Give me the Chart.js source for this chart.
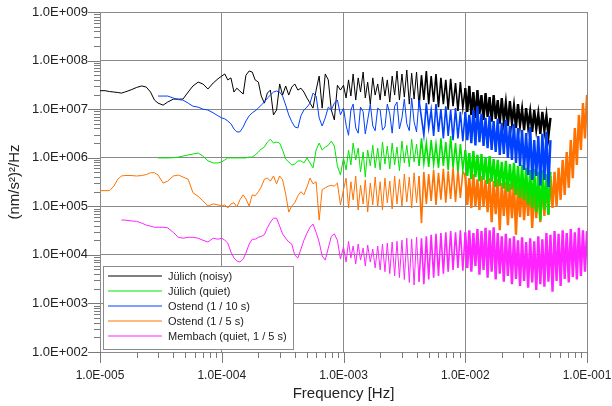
<!DOCTYPE html>
<html>
<head>
<meta charset="utf-8">
<script src="https://cdn.jsdelivr.net/npm/chart.js@4.4.0/dist/chart.umd.min.js"></script>
<style>
  html, body { margin: 0; padding: 0; background: #fff; }
</style>
</head>
<body>
<canvas id="psdChart" width="612" height="406"></canvas>
<script>
// frequency grid [Hz], shared by all spectra
var freq = [
  1.0e-5, 1.1e-5, 1.2e-5, 1.3e-5, 1.4e-5, 1.5e-5, 1.6e-5, 1.8e-5, 2.0e-5, 2.2e-5, 2.4e-5, 2.6e-5, 2.8e-5,
  3.0e-5, 3.3e-5, 3.6e-5, 4.0e-5, 4.4e-5, 4.8e-5, 5.3e-5, 5.8e-5, 6.4e-5, 7.0e-5, 7.7e-5, 8.5e-5, 9.3e-5,
  1.00e-4, 1.06e-4, 1.12e-4, 1.19e-4, 1.26e-4, 1.33e-4, 1.41e-4, 1.50e-4, 1.58e-4, 1.68e-4,
  1.78e-4, 1.88e-4, 2.00e-4, 2.11e-4, 2.24e-4, 2.37e-4, 2.51e-4, 2.66e-4, 2.82e-4, 2.99e-4,
  3.16e-4, 3.35e-4, 3.55e-4, 3.76e-4, 3.98e-4, 4.22e-4, 4.47e-4, 4.73e-4, 5.01e-4, 5.31e-4,
  5.62e-4, 5.96e-4, 6.31e-4, 6.68e-4, 7.08e-4, 7.50e-4, 7.94e-4, 8.41e-4, 8.91e-4, 9.44e-4,
  1.00e-3, 1.05e-3, 1.10e-3, 1.15e-3, 1.20e-3, 1.26e-3, 1.32e-3, 1.38e-3, 1.45e-3, 1.51e-3,
  1.58e-3, 1.66e-3, 1.74e-3, 1.82e-3, 1.91e-3, 2.00e-3, 2.09e-3, 2.19e-3, 2.29e-3, 2.40e-3,
  2.51e-3, 2.63e-3, 2.75e-3, 2.88e-3, 3.02e-3, 3.16e-3, 3.31e-3, 3.47e-3, 3.63e-3, 3.80e-3,
  3.98e-3, 4.17e-3, 4.37e-3, 4.57e-3, 4.79e-3, 5.01e-3, 5.25e-3, 5.50e-3, 5.75e-3, 6.03e-3,
  6.31e-3, 6.61e-3, 6.92e-3, 7.24e-3, 7.59e-3, 7.94e-3, 8.32e-3, 8.71e-3, 9.12e-3, 9.55e-3,
  1.000e-2, 1.039e-2, 1.080e-2, 1.122e-2, 1.166e-2, 1.212e-2, 1.259e-2, 1.308e-2, 1.359e-2, 1.413e-2,
  1.468e-2, 1.526e-2, 1.585e-2, 1.647e-2, 1.711e-2, 1.778e-2, 1.848e-2, 1.920e-2, 1.995e-2, 2.073e-2,
  2.154e-2, 2.239e-2, 2.326e-2, 2.418e-2, 2.512e-2, 2.610e-2, 2.712e-2, 2.818e-2, 2.929e-2, 3.043e-2,
  3.162e-2, 3.286e-2, 3.415e-2, 3.548e-2, 3.687e-2, 3.831e-2, 3.981e-2, 4.137e-2, 4.299e-2, 4.467e-2,
  4.642e-2, 4.823e-2, 5.012e-2, 5.208e-2, 5.412e-2, 5.623e-2, 5.843e-2, 6.072e-2, 6.310e-2, 6.557e-2,
  6.813e-2, 7.080e-2, 7.356e-2, 7.645e-2, 7.943e-2, 8.254e-2, 8.577e-2, 8.913e-2, 9.261e-2, 9.624e-2,
  1.0e-1
];

// PSD values [(nm/s^2)^2/Hz], null where the record has no data
var julichNoisy = [
  2.4e7, 2.4e7, 2.3e7, 2.25e7, 2.2e7, 2.14e7, 2.25e7, 2.5e7, 2.8e7, 3.0e7, 2.85e7, 2.25e7, 1.54e7,
  1.33e7, 1.21e7, 1.4e7, 1.61e7, 1.61e7, 1.61e7, 2.25e7, 3.0e7, 3.6e7, 3.3e7, 2.6e7, 3.45e7, 4.2e7,
  4.8e7, 5.3e7, 4.0e7, 4.4e7, 2.25e7, 2.7e7, 2.35e7, 2.05e7, 5.0e7, 6.1e7,
  5.8e7, 4.0e7, 3.6e7, 1.86e7, 1.33e7, 2.14e7, 2.47e7, 7.6e6, 9.6e6, 3.3e7,
  1.95e7, 3.0e7, 1.95e7, 2.85e7, 3.3e7, 2.47e7, 2.7e7, 2.25e7, 1.69e7, 1.33e7,
  1.05e7, 2.47e7, 4.8e7, 1.05e7, 5.3e7, 4.0e7, 9.6e6, 6.0e6, 3.1e7, 2.47e7,
  3.1e7, 1.7e7, 4.0e7, 1.86e7, 5.3e7, 1.54e7, 4.4e7, 2.25e7, 5.8e7, 1.7e7,
  3.6e7, 1.27e7, 4.4e7, 1.95e7, 3.3e7, 1.54e7, 4.6e7, 1.86e7, 4.0e7, 1.4e7,
  4.8e7, 1.95e7, 6.1e7, 1.54e7, 5.3e7, 1.77e7, 6.4e7, 1.27e7, 5.5e7, 1.61e7,
  5.8e7, 1.15e7, 5.0e7, 1.54e7, 6.1e7, 1.27e7, 4.8e7, 1.4e7, 5.3e7, 1.1e7,
  4.4e7, 1.27e7, 4.0e7, 9.9e6, 4.2e7, 1.15e7, 3.45e7, 9.2e6, 3.6e7, 1.05e7,
  2.7e7, 8.8e6, 3.0e7, 7.6e6, 2.25e7, 6.6e6, 2.47e7, 8.0e6, 1.95e7, 6.0e6,
  2.14e7, 6.9e6, 1.77e7, 5.5e6, 1.95e7, 6.3e6, 1.54e7, 5.0e6, 1.69e7, 5.7e6,
  1.33e7, 4.5e6, 1.47e7, 5.2e6, 1.15e7, 4.1e6, 1.27e7, 4.7e6, 1.0e7, 3.7e6,
  1.05e7, 4.3e6, 8.8e6, 3.4e6, 9.6e6, 3.9e6, 8.0e6, 3.1e6, 8.8e6, 3.6e6,
  7.3e6, 2.8e6, 6.6e6
];

var julichQuiet = [
  null, null, null, null, null, null, null, null, null, null, null, null, null,
  9.9e5, 9.9e5, 9.9e5, 1.0e6, 1.03e6, 1.08e6, 1.14e6, 1.19e6, 1.25e6, 1.08e6, 8.6e5, 7.8e5, 7.8e5,
  8.2e5, 9.0e5, 9.9e5, 9.9e5, 9.9e5, 9.9e5, 9.9e5, 9.9e5, 9.9e5, 1.03e6,
  1.03e6, 1.14e6, 1.31e6, 1.51e6, 1.66e6, 2.1e6, 2.4e6, 2.0e6, 2.1e6, 2.0e6,
  1.44e6, 9.4e5, 8.2e5, 7.1e5, 7.4e5, 8.6e5, 8.6e5, 7.8e5, 9.9e5, 7.8e5,
  6.2e5, 1.44e6, 2.0e6, 1.44e6, 1.66e6, 1.8e6, 2.2e6, 1.74e6, 6.8e5, 4.4e5,
  9.9e5, 5.6e5, 1.44e6, 7.1e5, 2.0e6, 9.0e5, 1.58e6, 5.1e5, 1.31e6, 4.0e5,
  1.44e6, 6.8e5, 1.8e6, 6.2e5, 1.58e6, 5.6e5, 2.1e6, 7.4e5, 1.74e6, 5.9e5,
  2.0e6, 7.1e5, 1.66e6, 5.4e5, 2.2e6, 7.8e5, 1.8e6, 6.5e5, 2.4e6, 8.2e5,
  1.9e6, 6.8e5, 2.5e6, 7.8e5, 2.0e6, 6.5e5, 2.3e6, 7.4e5, 1.9e6, 6.2e5,
  2.5e6, 6.8e5, 2.1e6, 5.6e5, 2.8e6, 6.2e5, 2.0e6, 5.1e5, 1.9e6, 5.6e5,
  1.44e6, 4.2e5, 1.25e6, 3.6e5, 1.37e6, 4.0e5, 1.14e6, 3.3e5, 1.19e6, 3.5e5,
  1.03e6, 2.9e5, 1.08e6, 3.2e5, 9.4e5, 2.5e5, 9.0e5, 2.6e5, 8.2e5, 2.3e5,
  8.6e5, 2.0e5, 7.4e5, 2.2e5, 7.8e5, 1.72e5, 6.8e5, 1.49e5, 7.1e5, 1.36e5,
  6.2e5, 1.07e5, 5.6e5, 9.2e4, 5.9e5, 7.6e4, 5.1e5, 5.2e4, 5.6e5, 8.4e4,
  4.6e5, 6.6e4, 5.1e5
];

var ostend10 = [
  null, null, null, null, null, null, null, null, null, null, null, null, null,
  1.86e7, 1.86e7, 1.86e7, 1.69e7, 1.57e7, 1.54e7, 1.33e7, 1.15e7, 1.1e7, 1.0e7, 9.6e6, 8.4e6, 7.3e6,
  6.6e6, 6.3e6, 5.7e6, 5.0e6, 3.9e6, 3.4e6, 3.4e6, 4.3e6, 5.7e6, 7.3e6,
  8.4e6, 9.2e6, 1.05e7, 1.21e7, 1.4e7, 1.69e7, 1.95e7, 2.25e7, 2.36e7, 2.25e7,
  1.86e7, 1.21e7, 7.6e6, 5.5e6, 4.3e6, 4.1e6, 7.3e6, 9.6e6, 1.1e7, 1.33e7,
  2.14e7, 1.86e7, 6.6e6, 4.5e6, 6.6e6, 1.1e7, 9.6e6, 1.33e7, 1.54e7, 7.6e6,
  1.05e7, 4.7e6, 2.9e6, 9.6e6, 1.27e7, 4.1e6, 3.2e6, 1.1e7, 8.8e6, 3.1e6,
  6.0e6, 1.27e7, 4.5e6, 3.6e6, 1.05e7, 9.6e6, 3.7e6, 4.3e6, 1.27e7, 8.0e6,
  3.2e6, 1.15e7, 1.4e7, 3.9e6, 6.6e6, 1.61e7, 5.0e6, 3.6e6, 1.69e7, 5.5e6,
  3.4e6, 1.54e7, 6.6e6, 2.9e6, 1.33e7, 4.1e6, 9.6e6, 2.8e6, 1.27e7, 3.4e6,
  1.0e7, 2.5e6, 1.15e7, 2.8e6, 9.6e6, 2.3e6, 1.05e7, 2.5e6, 8.8e6, 2.2e6,
  8.8e6, 2.3e6, 7.6e6, 2.0e6, 9.6e6, 1.8e6, 1.15e7, 2.1e6, 8.0e6, 1.74e6,
  6.6e6, 1.58e6, 7.3e6, 1.44e6, 5.7e6, 1.31e6, 6.3e6, 1.14e6, 5.2e6, 1.19e6,
  6.0e6, 9.9e5, 4.5e6, 9.0e5, 5.0e6, 7.8e5, 4.1e6, 6.8e5, 3.7e6, 5.6e5,
  3.2e6, 4.4e5, 4.3e6, 3.5e5, 2.3e6, 4.2e5, 2.8e6, 2.7e5, 3.1e6, 3.5e5,
  3.4e6, 2.5e5, 2.3e6
];

var ostend5 = [
  2.1e5, 2.1e5, 2.1e5, 2.6e5, 3.6e5, 4.2e5, 4.3e5, 4.3e5, 4.2e5, 4.3e5, 4.5e5, 4.9e5, 4.9e5,
  4.4e5, 3.0e5, 3.3e5, 4.2e5, 4.4e5, 4.0e5, 3.6e5, 1.9e5, 1.6e5, 1.29e5, 1.01e5, 1.12e5, 1.07e5,
  1.01e5, 1.07e5, 9.2e4, 1.12e5, 1.18e5, 9.7e4, 1.36e5, 1.72e5, 1.42e5, 1.01e5,
  1.72e5, 1.64e5, 2.0e5, 2.5e5, 3.6e5, 3.8e5, 3.3e5, 4.2e5, 2.9e5, 4.2e5,
  3.5e5, 1.8e5, 7.6e4, 1.01e5, 1.18e5, 1.64e5, 2.0e5, 1.72e5, 2.5e5, 3.8e5,
  2.9e5, 3.2e5, 5.2e4, 2.2e5, 2.4e5, 2.6e5, 2.7e5, 2.6e5, 3.0e5, 1.07e5,
  2.2e5, 3.8e5, 9.2e4, 3.2e5, 1.36e5, 4.2e5, 8.4e4, 2.7e5, 1.12e5, 3.5e5,
  7.6e4, 3.0e5, 1.07e5, 4.0e5, 9.7e4, 3.2e5, 8.4e4, 3.8e5, 1.18e5, 3.3e5,
  8.8e4, 4.2e5, 1.12e5, 3.6e5, 1.01e5, 4.6e5, 1.23e5, 4.0e5, 9.2e4, 4.9e5,
  1.18e5, 4.2e5, 4.5e4, 5.1e5, 1.12e5, 4.6e5, 1.29e5, 5.6e5, 1.07e5, 4.9e5,
  1.36e5, 5.9e5, 1.18e5, 5.4e5, 1.42e5, 6.2e5, 1.23e5, 5.6e5, 1.49e5, 5.1e5,
  4.4e5, 1.07e5, 3.8e5, 9.2e4, 4.6e5, 1.01e5, 3.6e5, 8.4e4, 4.2e5, 9.7e4,
  3.5e5, 7.6e4, 3.8e5, 4.7e4, 3.3e5, 6.9e4, 3.6e5, 3.2e4, 3.0e5, 6.3e4,
  3.2e5, 4.1e4, 2.9e5, 5.7e4, 3.3e5, 2.6e4, 2.7e5, 6.0e4, 3.0e5, 5.2e4,
  2.6e5, 6.3e4, 2.9e5, 3.6e4, 2.5e5, 5.7e4, 2.7e5, 4.7e4, 3.0e5, 6.3e4,
  3.3e5, 6.9e4, 4.2e5, 9.2e4, 5.1e5, 1.01e5, 6.2e5, 1.36e5, 9.0e5, 1.72e5,
  1.31e6, 2.4e5, 2.3e6, 3.8e5, 4.1e6, 7.1e5, 7.6e6, 1.44e6, 1.33e7, 2.5e6,
  1.95e7
];

var membach = [
  null, null, null, null, null, 5.2e4, 5.2e4, 5.0e4, 4.9e4, 4.5e4, 4.1e4, 3.9e4, 3.7e4,
  3.7e4, 3.7e4, 3.6e4, 2.9e4, 2.3e4, 2.2e4, 2.3e4, 2.3e4, 2.2e4, 2.0e4, 1.84e4, 2.2e4, 2.1e4,
  2.2e4, 2.0e4, 1.75e4, 1.14e4, 8.6e3, 7.5e3, 7.1e3, 8.2e3, 1.09e4, 1.67e4,
  2.1e4, 2.1e4, 2.3e4, 2.4e4, 2.6e4, 3.6e4, 4.7e4, 5.7e4, 5.7e4, 3.9e4,
  2.7e4, 2.2e4, 1.84e4, 1.67e4, 9.9e3, 8.6e3, 1.32e4, 2.0e4, 2.8e4, 3.7e4,
  4.3e4, 2.9e4, 1.84e4, 9.5e3, 7.8e3, 1.38e4, 2.4e4, 2.7e4, 2.0e4, 8.2e3,
  1.45e4, 7.1e3, 1.9e4, 8.6e3, 1.52e4, 6.5e3, 1.67e4, 7.8e3, 1.38e4, 5.9e3,
  1.59e4, 7.1e3, 1.32e4, 5.4e3, 1.52e4, 4.9e3, 1.67e4, 4.5e3, 1.75e4, 4.1e3,
  1.84e4, 3.7e3, 1.9e4, 3.4e3, 2.0e4, 3.1e3, 2.2e4, 2.7e3, 2.1e4, 2.4e3,
  2.3e4, 2.8e3, 2.2e4, 2.5e3, 2.4e4, 3.1e3, 2.6e4, 3.4e3, 2.7e4, 3.7e3,
  2.8e4, 4.1e3, 2.9e4, 4.5e3, 3.1e4, 4.9e3, 2.9e4, 5.4e3, 3.2e4, 4.7e3,
  2.9e4, 5.4e3, 3.2e4, 4.5e3, 2.8e4, 5.9e3, 3.4e4, 3.9e3, 3.1e4, 4.9e3,
  3.6e4, 3.4e3, 3.2e4, 4.5e3, 3.7e4, 3.1e3, 2.8e4, 4.1e3, 2.4e4, 2.8e3,
  2.7e4, 3.7e3, 2.2e4, 2.5e3, 2.4e4, 3.2e3, 2.0e4, 2.3e3, 2.3e4, 2.9e3,
  1.84e4, 2.1e3, 2.2e4, 2.7e3, 1.9e4, 1.9e3, 2.4e4, 2.5e3, 2.1e4, 2.2e3,
  2.8e4, 2.8e3, 2.6e4, 1.74e3, 3.1e4, 2.9e3, 2.7e4, 2.3e3, 3.2e4, 3.2e3,
  2.8e4, 2.7e3, 3.4e4, 3.5e3, 2.9e4, 3.1e3, 3.6e4, 3.7e3, 3.2e4, 4.5e3,
  3.1e4
];

var seriesLabels = ['Jülich (noisy)', 'Jülich (quiet)', 'Ostend (1 / 10 s)', 'Ostend (1 / 5 s)', 'Membach (quiet, 1 / 5 s)'];
var seriesColors = ['#000000', '#00e400', '#0040ff', '#ff7200', '#ff24ff'];
var drawOrder = [4, 2, 1, 3, 0]; // lower = drawn on top
var xDecades = [1e-5, 1e-4, 1e-3, 1e-2, 1e-1];
var yDecades = [1e2, 1e3, 1e4, 1e5, 1e6, 1e7, 1e8, 1e9];

function points(vals) {
  return freq.map(function (f, i) { return { x: f, y: vals[i] }; })
             .filter(function (p) { return p.y != null; });
}

// ticks at 1..9 of every decade, the decade itself is major
function decadeTicks(decades) {
  var t = [];
  decades.forEach(function (d, i) {
    if (i === decades.length - 1) { t.push({ value: d, major: true }); return; }
    for (var m = 1; m < 10; m++) t.push({ value: d * m, major: m === 1 });
  });
  return t;
}

function sci(v) {
  var e = Math.round(Math.log10(v));
  return '1.0E' + (e < 0 ? '-' : '+') + String(Math.abs(e)).padStart(3, '0');
}

// the dense high-frequency part of the spectra is drawn heavier so it reads as a band
function segWidth(c) {
  var f = c.p0.parsed.x;
  return f >= 1e-2 ? 2.4 : (f >= 4e-3 ? 1.6 : 1);
}

var tickMarks = {
  id: 'tickMarks',
  afterDraw: function (chart) {
    var ctx = chart.ctx, a = chart.chartArea, x = chart.scales.x, y = chart.scales.y;
    ctx.save();
    ctx.strokeStyle = '#7a7a7a';
    ctx.lineWidth = 1;
    ctx.beginPath();
    x.ticks.forEach(function (t) {
      var px = Math.round(x.getPixelForValue(t.value)) + 0.5;
      ctx.moveTo(px, a.bottom);
      ctx.lineTo(px, a.bottom + (t.major ? 11 : 6));
    });
    y.ticks.forEach(function (t) {
      var py = Math.round(y.getPixelForValue(t.value)) + 0.5;
      ctx.moveTo(a.left - (t.major ? 12 : 6), py);
      ctx.lineTo(a.left, py);
    });
    ctx.stroke();
    ctx.restore();
  }
};

var legendBox = {
  id: 'legendBox',
  afterDraw: function (chart) {
    var ctx = chart.ctx, a = chart.chartArea;
    var x0 = Math.round(a.left) + 3, y0 = Math.round(a.bottom) - 86;
    ctx.save();
    ctx.fillStyle = '#fff';
    ctx.fillRect(x0, y0, 190, 83);
    ctx.strokeStyle = '#8c8c8c';
    ctx.lineWidth = 1;
    ctx.strokeRect(x0 + 0.5, y0 + 0.5, 190, 83);
    ctx.font = '11px "Liberation Sans", Arial, sans-serif';
    ctx.textBaseline = 'middle';
    chart.data.datasets.forEach(function (ds, i) {
      var yy = y0 + 10 + i * 15;
      ctx.strokeStyle = ds.borderColor;
      ctx.beginPath();
      ctx.moveTo(x0 + 5, yy);
      ctx.lineTo(x0 + 59, yy);
      ctx.stroke();
      ctx.fillStyle = '#222';
      ctx.fillText(ds.label, x0 + 65, yy + 0.5);
    });
    ctx.restore();
  }
};

Chart.defaults.font.family = '"Liberation Sans", Arial, sans-serif';
Chart.defaults.color = '#222';

var allSeries = [julichNoisy, julichQuiet, ostend10, ostend5, membach];

var gridColor = function (c) { return c.tick && c.tick.major ? '#8a8a8a' : 'rgba(0,0,0,0)'; };

new Chart(document.getElementById('psdChart'), {
  type: 'line',
  data: {
    datasets: allSeries.map(function (vals, i) {
      return {
        label: seriesLabels[i],
        data: points(vals),
        borderColor: seriesColors[i],
        borderWidth: 1,
        segment: { borderWidth: segWidth },
        pointRadius: 0,
        tension: 0,
        fill: false,
        order: drawOrder[i]
      };
    })
  },
  options: {
    responsive: false,
    animation: false,
    layout: { padding: { top: 12, right: 25, left: 0, bottom: 0 } },
    plugins: { legend: { display: false }, tooltip: { enabled: false } },
    scales: {
      x: {
        type: 'logarithmic',
        min: 1e-5,
        max: 1e-1,
        afterBuildTicks: function (s) { s.ticks = decadeTicks(xDecades); },
        afterFit: function (s) { s.height = 54; s.paddingLeft = 0; s.paddingRight = 0; },
        ticks: {
          autoSkip: false,
          maxRotation: 0,
          padding: 16,
          font: { size: 12 },
          callback: function (v, i, ts) { return ts[i].major ? sci(v) : ''; }
        },
        grid: { color: gridColor, drawTicks: false },
        border: { color: '#8a8a8a' },
        title: { display: true, text: 'Frequency [Hz]', font: { size: 15 }, padding: { top: 0, bottom: 3 } }
      },
      y: {
        type: 'logarithmic',
        min: 1e2,
        max: 1e9,
        afterBuildTicks: function (s) { s.ticks = decadeTicks(yDecades); },
        afterFit: function (s) { s.width = 100; s.paddingTop = 0; s.paddingBottom = 0; },
        ticks: {
          autoSkip: false,
          padding: 12,
          font: { size: 13 },
          callback: function (v, i, ts) { return ts[i].major ? sci(v) : ''; }
        },
        grid: { color: gridColor, drawTicks: false },
        border: { color: '#8a8a8a' },
        title: { display: true, text: '(nm/s²)²/Hz', font: { size: 15 }, padding: { top: 6, bottom: 0 } }
      }
    }
  },
  plugins: [tickMarks, legendBox]
});
</script>
</body>
</html>
